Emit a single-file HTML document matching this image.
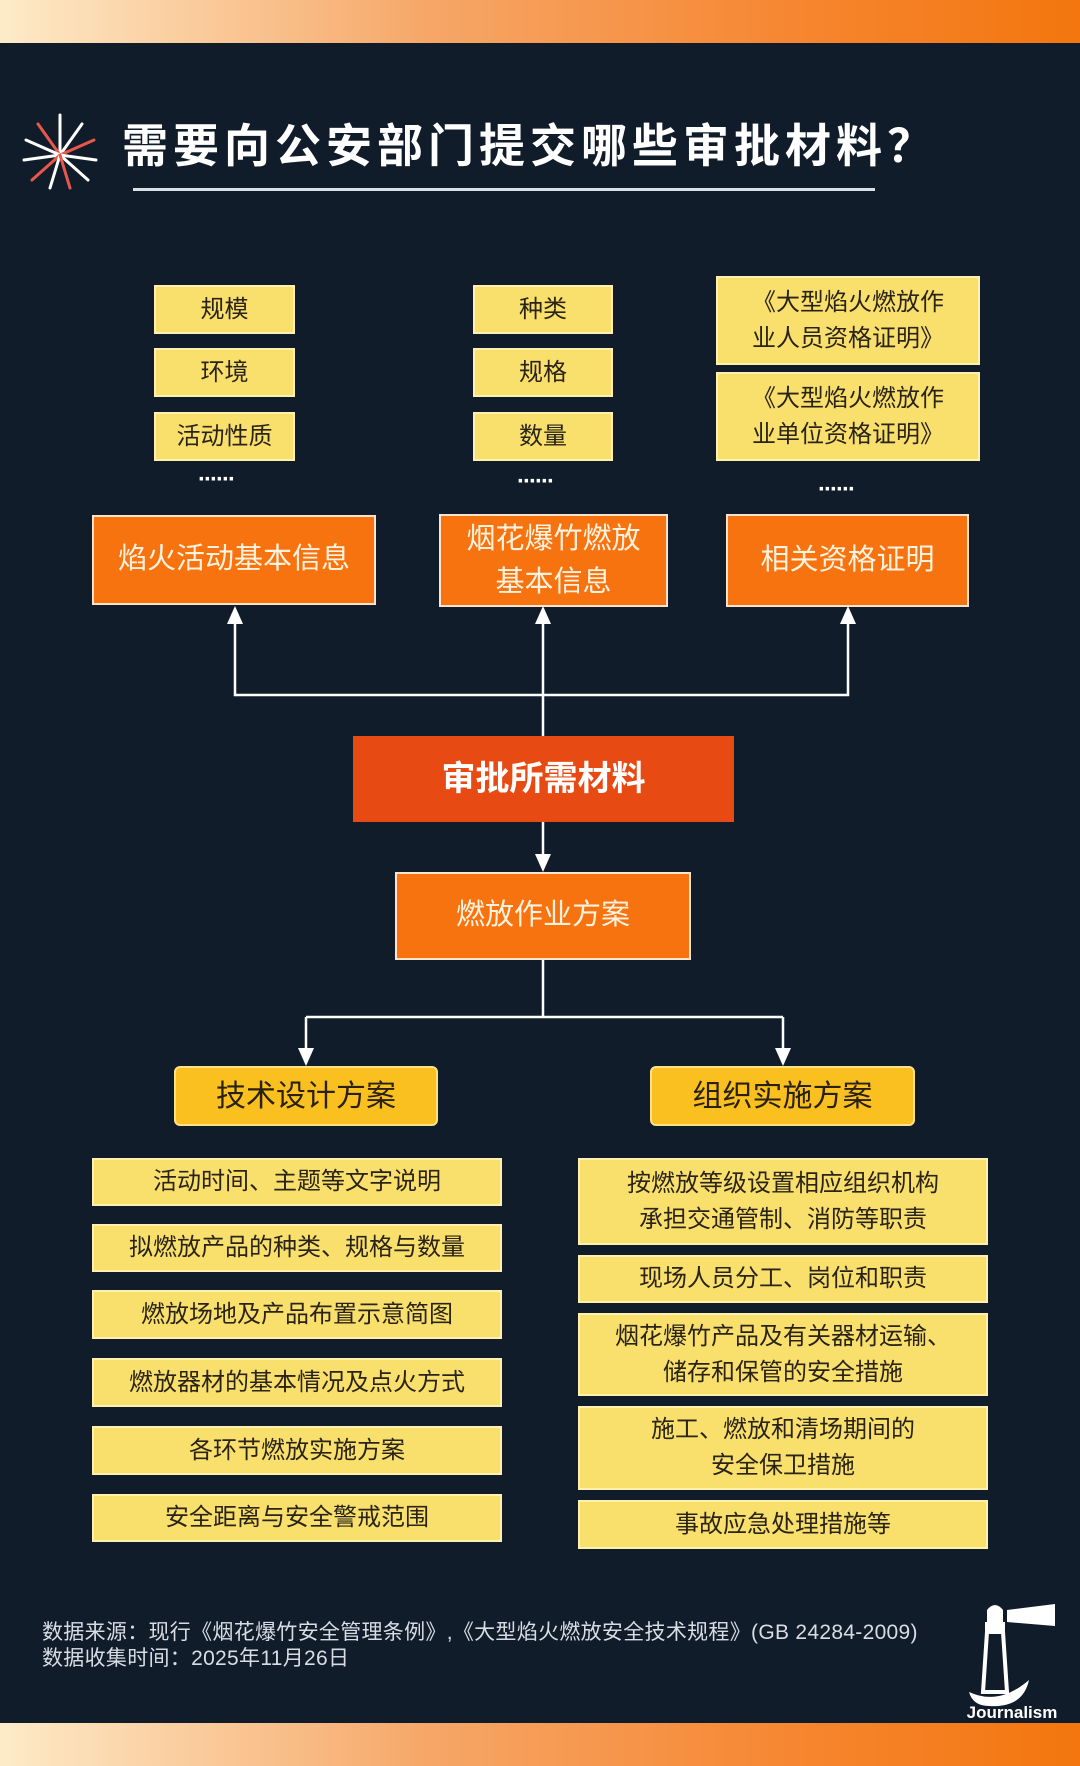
<!DOCTYPE html>
<html><head><meta charset="utf-8"><style>
*{margin:0;padding:0;box-sizing:border-box}
body{width:1080px;height:1746px;background:#111c2b;position:relative;overflow:hidden;font-family:"Liberation Sans","Noto Sans CJK SC",sans-serif}
.band{position:absolute;left:0;width:1080px;height:43px;background:linear-gradient(90deg,#fdebc8 0%,#f6a667 40%,#f6852e 75%,#f3760e 100%)}
.b{position:absolute;display:flex;align-items:center;justify-content:center;text-align:center;line-height:1.5}
.y{background:#f9df6c;border:2px solid #fff0b0;color:#2a2418;font-size:24px}
.o{background:#f6730f;border:2px solid #ffe3cc;color:#fff3e0;font-size:29px}
.gy{background:#f9c020;border:2px solid #ffe18a;border-radius:6px;color:#2a2010;font-size:30px}
.dots{position:absolute;color:#fff;font-size:24px;letter-spacing:-2px;font-weight:bold}
.ft{position:absolute;left:42px;color:#d8dde4;font-size:21px;letter-spacing:0.3px}
</style></head><body>
<div class="band" style="top:0"></div>
<div class="band" style="top:1723px"></div>
<svg style="position:absolute;left:20px;top:110px" width="80" height="82" viewBox="0 0 80 82">
<g stroke-width="3" stroke-linecap="round" fill="none">
<path d="M40 45 L40 5" stroke="#fff"/><path d="M40 45 L18 14" stroke="#e9574b"/><path d="M40 45 L62 14" stroke="#fff"/>
<path d="M40 45 L6 30" stroke="#fff"/><path d="M40 45 L74 30" stroke="#e9574b"/><path d="M40 45 L4 50" stroke="#fff"/>
<path d="M40 45 L76 50" stroke="#fff"/><path d="M40 45 L12 70" stroke="#e9574b"/><path d="M40 45 L68 70" stroke="#fff"/>
<path d="M40 45 L30 78" stroke="#fff"/><path d="M40 45 L50 78" stroke="#e9574b"/></g></svg>
<div style="position:absolute;left:122px;top:110px;color:#fff;font-size:46px;font-weight:bold;letter-spacing:5px;white-space:nowrap">需要向公安部门提交哪些审批材料？</div>
<div style="position:absolute;left:133px;top:188px;width:742px;height:3px;background:#d9e0ea"></div>

<div class="b y" style="left:154px;top:285px;width:141px;height:49px">规模</div>
<div class="b y" style="left:154px;top:348px;width:141px;height:49px">环境</div>
<div class="b y" style="left:154px;top:412px;width:141px;height:49px">活动性质</div>
<div class="dots" style="left:198px;top:466px">······</div>
<div class="b y" style="left:473px;top:285px;width:140px;height:49px">种类</div>
<div class="b y" style="left:473px;top:348px;width:140px;height:49px">规格</div>
<div class="b y" style="left:473px;top:412px;width:140px;height:49px">数量</div>
<div class="dots" style="left:517px;top:468px">······</div>
<div class="b y" style="left:716px;top:276px;width:264px;height:89px">《大型焰火燃放作<br>业人员资格证明》</div>
<div class="b y" style="left:716px;top:372px;width:264px;height:89px">《大型焰火燃放作<br>业单位资格证明》</div>
<div class="dots" style="left:818px;top:476px">······</div>

<div class="b o" style="left:92px;top:515px;width:284px;height:90px">焰火活动基本信息</div>
<div class="b o" style="left:439px;top:514px;width:229px;height:93px;line-height:1.45">烟花爆竹燃放<br>基本信息</div>
<div class="b o" style="left:726px;top:514px;width:243px;height:93px">相关资格证明</div>

<svg style="position:absolute;left:0;top:0" width="1080" height="1746">
<g stroke="#fff" stroke-width="2.5" fill="none">
<path d="M235 620 V695 H848 V620"/><path d="M543 620 V736"/>
<path d="M543 822 V858"/>
<path d="M543 960 V1017 M306 1017 H783 M306 1017 V1052 M783 1017 V1052"/>
</g>
<g fill="#fff">
<path d="M235 606 l-8 18 h16z"/><path d="M543 606 l-8 18 h16z"/><path d="M848 606 l-8 18 h16z"/>
<path d="M543 872 l-8 -18 h16z"/>
<path d="M306 1066 l-8 -18 h16z"/><path d="M783 1066 l-8 -18 h16z"/>
</g></svg>

<div class="b" style="left:353px;top:736px;width:381px;height:86px;background:#e84a14;color:#fff;font-size:34px;font-weight:bold">审批所需材料</div>
<div class="b o" style="left:395px;top:872px;width:296px;height:88px">燃放作业方案</div>

<div class="b gy" style="left:174px;top:1066px;width:264px;height:60px">技术设计方案</div>
<div class="b gy" style="left:650px;top:1066px;width:265px;height:60px">组织实施方案</div>

<div class="b y" style="left:92px;top:1158px;width:410px;height:48px">活动时间、主题等文字说明</div>
<div class="b y" style="left:92px;top:1224px;width:410px;height:48px">拟燃放产品的种类、规格与数量</div>
<div class="b y" style="left:92px;top:1290px;width:410px;height:49px">燃放场地及产品布置示意简图</div>
<div class="b y" style="left:92px;top:1358px;width:410px;height:49px">燃放器材的基本情况及点火方式</div>
<div class="b y" style="left:92px;top:1426px;width:410px;height:49px">各环节燃放实施方案</div>
<div class="b y" style="left:92px;top:1494px;width:410px;height:48px">安全距离与安全警戒范围</div>

<div class="b y" style="left:578px;top:1158px;width:410px;height:87px">按燃放等级设置相应组织机构<br>承担交通管制、消防等职责</div>
<div class="b y" style="left:578px;top:1255px;width:410px;height:48px">现场人员分工、岗位和职责</div>
<div class="b y" style="left:578px;top:1313px;width:410px;height:83px">烟花爆竹产品及有关器材运输、<br>储存和保管的安全措施</div>
<div class="b y" style="left:578px;top:1406px;width:410px;height:84px">施工、燃放和清场期间的<br>安全保卫措施</div>
<div class="b y" style="left:578px;top:1500px;width:410px;height:49px">事故应急处理措施等</div>

<div class="ft" style="top:1616px">数据来源：现行《烟花爆竹安全管理条例》,《大型焰火燃放安全技术规程》(GB 24284-2009)</div>
<div class="ft" style="top:1642px">数据收集时间：2025年11月26日</div>

<svg style="position:absolute;left:955px;top:1596px" width="115" height="126" viewBox="0 0 115 126">
<g fill="#fff"><path d="M32 14 q8 -10 16 0 v12 h-16z"/><rect x="30" y="26" width="20" height="8"/>
<path d="M52 14 L100 8 V30 L52 26z"/><path d="M32 36 h16 l4 60 h-24z" fill="none" stroke="#fff" stroke-width="4"/>
<path d="M14 96 q30 14 60 -12 q-6 28 -40 26 q-16 0 -20 -14z"/></g>
<text x="57" y="122" fill="#fff" font-size="17" font-weight="bold" text-anchor="middle" font-family="Liberation Sans,sans-serif">Journalism</text></svg>
</body></html>
